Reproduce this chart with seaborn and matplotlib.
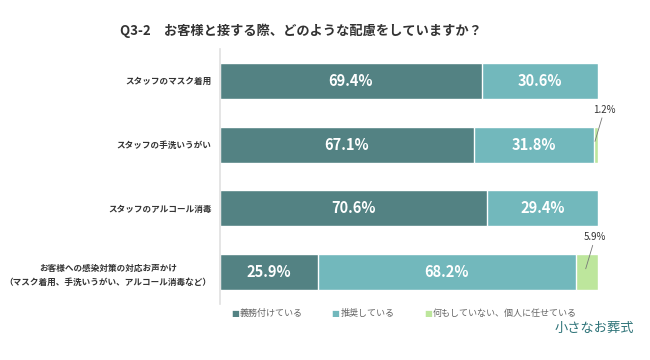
import pandas as pd
import numpy as np
import seaborn as sns
import matplotlib.pyplot as plt

categories = [
    'スタッフのマスク着用',
    'スタッフの手洗いうがい',
    'スタッフのアルコール消毒',
    'お客様への感染対策の対応お声かけ\n（マスク着用、手洗いうがい、アルコール消毒など）',
]
mandatory = [69.4, 67.1, 70.6, 25.9]
recommended = [30.6, 31.8, 29.4, 68.2]
nothing = [0.0, 1.2, 0.0, 5.9]
series_names = ['義務付けている', '推奨している', '何もしていない、個人に任せている']
colors = ['#538283', '#72b8bc', '#bde69c']

sns.set_theme(style='white')
plt.rcParams['font.family'] = ['Noto Sans CJK JP', 'DejaVu Sans']

df = pd.DataFrame({
    'cat': categories,
    'm': mandatory,
    'r': recommended,
    'n': nothing,
})
df['c1'] = df['m']
df['c2'] = df['m'] + df['r']
df['c3'] = df['m'] + df['r'] + df['n']

fig = plt.figure(figsize=(6.5, 3.6), dpi=100)
ax = fig.add_axes([0.338, 0.156, 0.582, 0.708])

# 累積値を後ろから重ねて積み上げ棒にする
for col, c in zip(['c3', 'c2', 'c1'], colors[::-1]):
    sns.barplot(data=df, x=col, y='cat', color=c, orient='h', width=0.565,
                saturation=1, ax=ax)

ax.set_xlim(0, 100)
ax.set_ylim(3.5, -0.5)
ax.set_xlabel('')
ax.set_ylabel('')
ax.set_xticks([])
ax.tick_params(axis='y', length=0, labelsize=6.2, colors='#333333', pad=6)
for lab in ax.get_yticklabels():
    lab.set_fontweight('bold')
    lab.set_multialignment('center')
    lab.set_linespacing(1.7)
for s in ['top', 'right', 'bottom']:
    ax.spines[s].set_visible(False)
ax.spines['left'].set_color('#e0e0e0')
ax.spines['left'].set_linewidth(1.2)

# バー内のラベル
for i in range(len(categories)):
    m, r, n = mandatory[i], recommended[i], nothing[i]
    ax.text(m / 2, i, f'{m:.1f}%', color='white', ha='center', va='center',
            fontsize=10.5, fontweight='bold')
    ax.text(m + r / 2, i, f'{r:.1f}%', color='white', ha='center', va='center',
            fontsize=10.5, fontweight='bold')
    if n > 0:
        x0 = m + r + n / 2
        ax.annotate(f'{n:.1f}%', xy=(x0 - 0.3, i - 0.05), xytext=(x0 + 2.2, i - 0.47),
                    ha='center', va='bottom', fontsize=7, color='#333333',
                    arrowprops=dict(arrowstyle='-', color='#777777', lw=0.6,
                                    shrinkA=0, shrinkB=0))

fig.text(0.185, 0.915, 'Q3-2　お客様と接する際、どのような配慮をしていますか？',
         fontsize=9.5, fontweight='bold', color='#333333', va='center')

# 凡例
leg_x = [0.355, 0.51, 0.652]
for x, name, c in zip(leg_x, series_names, colors):
    fig.text(x, 0.128, '■', color=c, fontsize=6, va='center',
             family=['DejaVu Sans'])
    fig.text(x + 0.014, 0.128, name, color='#666666', fontsize=6.5, va='center')

fig.text(0.975, 0.087, '小さなお葬式', color='#2f7479', fontsize=9.5,
         ha='right', va='center')

fig.savefig('out.png', dpi=100)
